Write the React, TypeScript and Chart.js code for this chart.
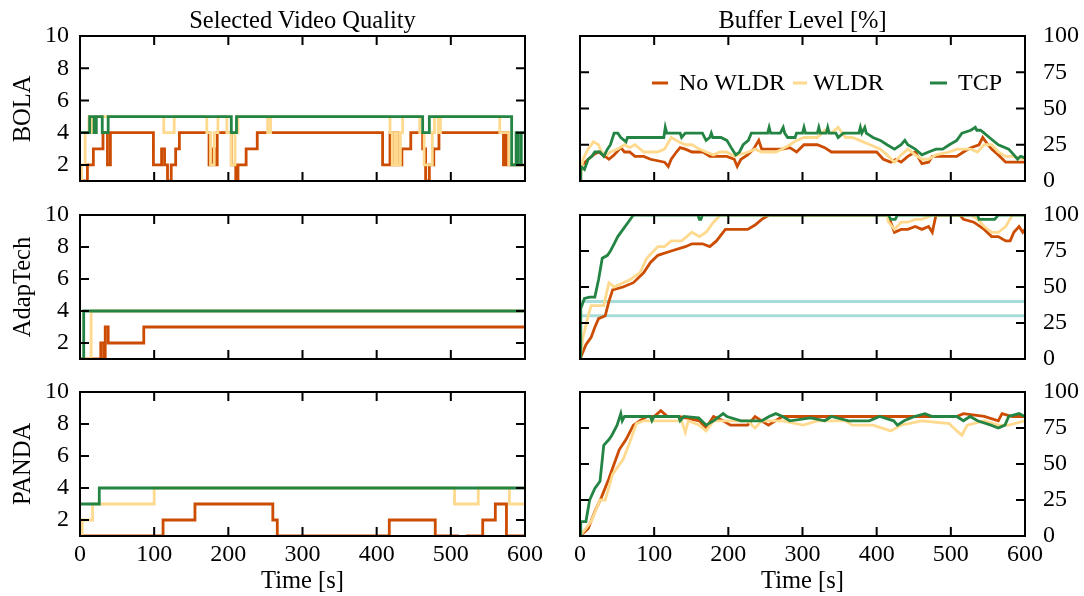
import React, { useEffect, useRef } from "react";
import { Chart, registerables } from "chart.js";

Chart.register(...registerables);

const FONT = "'Liberation Serif', 'Times New Roman', serif";
const COLOR_NO_WLDR = "#cc4c02";
const COLOR_WLDR = "#fed98e";
const COLOR_TCP = "#238443";
const COLOR_THRESHOLD = "#a8dcd8";

const seriesNames = ["No WLDR", "WLDR", "TCP"];
const rowNames = ["BOLA", "AdapTech", "PANDA"];
const columnTitles = ["Selected Video Quality", "Buffer Level [%]"];
const xTitle = "Time [s]";

const timeTicks = [0, 100, 200, 300, 400, 500, 600];
const qualityTicks = [2, 4, 6, 8, 10];
const bufferTicks = [0, 25, 50, 75, 100];

type Pt = [number, number | null];

// ---- BOLA: selected quality level (step changes: [time s, level]) ----
const bolaQualityNoWldr: Pt[] = [
  [0, 1], [10, 2], [18, 3], [31, 4], [37, 2], [41, 4], [99, 2], [110, 3], [114, 2], [118, 1],
  [123, 2], [129, 3], [134, 4], [174, 2], [178, 3], [182, 2], [185, 4], [204, 2], [210, 1],
  [213, 2], [224, 3], [239, 4], [408, 2], [418, 4], [421, 2], [425, 4], [428, 2], [434, 3],
  [446, 4], [462, 3], [466, 1], [471, 2], [477, 3], [484, 4], [571, 2], [574, 4], [577, 2], [600, 2],
];
const bolaQualityWldr: Pt[] = [
  [0, 1], [2, 2], [7, 4], [12, 5], [14, 4], [17, 5], [113, 4], [127, 5], [171, 4], [176, 2],
  [181, 4], [186, 5], [198, 4], [204, 2], [209, 4], [213, 5], [253, 4], [257, 5], [418, 4],
  [421, 2], [425, 4], [428, 2], [432, 4], [435, 5], [458, 4], [464, 2], [475, 4], [478, 5],
  [483, 4], [486, 5], [566, 4], [578, 2], [600, 2],
];
const bolaQualityTcp: Pt[] = [
  [0, 4], [13, 5], [19, 4], [22, 5], [30, 4], [38, 5], [204, 4], [211, 5], [462, 4], [471, 5],
  [582, 2], [588, 4], [591, 2], [595, 4], [600, 4],
];

// ---- BOLA: buffer level [%] ----
const bolaBufferNoWldr: Pt[] = [
  [0, 0], [1, 10], [11, 15], [18, 18], [25, 20], [34, 17], [39, 15], [46, 18], [55, 23], [60, 20],
  [67, 20], [74, 17], [86, 17], [95, 15], [114, 13], [119, 10], [123, 15], [130, 20], [135, 23],
  [142, 22], [151, 20], [166, 20], [175, 17], [198, 17], [208, 15], [212, 10], [217, 15],
  [226, 18], [234, 22], [241, 28], [245, 22], [273, 22], [283, 23], [292, 20], [302, 25],
  [320, 25], [330, 23], [339, 20], [400, 20], [409, 15], [419, 13], [426, 15], [433, 13],
  [442, 17], [452, 20], [461, 12], [470, 13], [475, 17], [508, 17], [517, 20], [527, 23],
  [538, 25], [543, 30], [550, 25], [555, 22], [564, 18], [574, 13], [600, 13],
];
const bolaBufferWldr: Pt[] = [
  [0, 0], [4, 15], [11, 22], [18, 27], [25, 25], [29, 20], [37, 18], [41, 20], [51, 22], [60, 25],
  [67, 23], [74, 25], [86, 20], [104, 20], [114, 22], [123, 30], [133, 27], [142, 25], [151, 25],
  [161, 22], [170, 20], [180, 18], [189, 20], [198, 20], [208, 17], [227, 20], [236, 22],
  [245, 20], [264, 20], [273, 22], [283, 25], [292, 28], [302, 30], [320, 30], [330, 35],
  [339, 33], [348, 37], [358, 30], [367, 30], [377, 28], [391, 25], [405, 22], [414, 18],
  [424, 13], [433, 18], [442, 22], [452, 18], [461, 15], [470, 15], [480, 18], [498, 20],
  [508, 22], [527, 22], [536, 20], [545, 25], [555, 25], [564, 20], [574, 17], [583, 17], [600, 15],
];
const bolaBufferTcp: Pt[] = [
  [0, 0], [1, 10], [6, 8], [11, 15], [16, 17], [20, 20], [27, 20], [32, 17], [37, 22], [41, 25],
  [46, 33], [51, 33], [55, 30], [62, 27], [64, 30], [113, 30], [115, 37], [117, 33], [135, 33],
  [137, 30], [142, 33], [165, 33], [170, 28], [175, 30], [177, 33], [179, 30], [190, 30],
  [198, 28], [205, 22], [210, 18], [215, 20], [220, 25], [227, 28], [231, 33], [253, 33],
  [255, 37], [257, 33], [270, 33], [274, 37], [276, 33], [280, 30], [290, 30], [292, 33],
  [300, 33], [302, 37], [304, 33], [320, 33], [322, 37], [324, 33], [332, 33], [334, 37],
  [336, 33], [345, 33], [348, 30], [355, 33], [376, 33], [378, 37], [380, 33], [384, 37],
  [386, 33], [395, 30], [405, 28], [414, 25], [424, 22], [433, 25], [438, 28], [442, 25],
  [452, 22], [461, 18], [470, 20], [480, 22], [489, 22], [498, 25], [508, 28], [515, 33],
  [527, 35], [533, 37], [535, 35], [540, 35], [545, 33], [552, 30], [564, 25], [578, 22],
  [585, 18], [590, 15], [594, 17], [600, 16],
];

// ---- AdapTech: selected quality level ----
const adapQualityNoWldr: Pt[] = [[0, 1], [28, 2], [32, 1], [34, 3], [38, 2], [86, 3], [600, 3]];
const adapQualityWldr: Pt[] = [[0, 1], [15, 4], [600, 4]];
const adapQualityTcp: Pt[] = [[0, 1], [5, 4], [600, 4]];

// ---- AdapTech: buffer level [%] and its two buffer thresholds ----
const adapBufferNoWldr: Pt[] = [
  [0, 0], [8, 10], [15, 15], [20, 22], [25, 28], [34, 30], [39, 40], [44, 48], [58, 50], [72, 53],
  [86, 60], [95, 67], [105, 72], [123, 75], [142, 78], [151, 80], [165, 80], [175, 78], [184, 82],
  [196, 90], [226, 90], [236, 93], [245, 97], [255, 100], [414, 100], [419, 95], [424, 88],
  [433, 90], [442, 90], [452, 92], [461, 90], [470, 92], [475, 88], [480, 100], [512, 100],
  [517, 97], [531, 95], [545, 90], [555, 85], [564, 85], [574, 82], [580, 82], [585, 88],
  [592, 92], [597, 88], [600, 90],
];
const adapBufferWldr: Pt[] = [
  [0, 0], [4, 15], [11, 30], [15, 37], [32, 37], [39, 53], [46, 50], [67, 55], [81, 60], [90, 70],
  [105, 78], [114, 78], [123, 82], [137, 82], [151, 88], [161, 85], [170, 88], [180, 95],
  [189, 100], [414, 100], [416, 95], [424, 90], [433, 95], [442, 95], [452, 97], [461, 97],
  [475, 100], [527, 100], [536, 97], [545, 92], [555, 88], [564, 88], [574, 92], [583, 100], [600, 100],
];
const adapBufferTcp: Pt[] = [
  [0, 0], [1, 35], [6, 42], [13, 43], [20, 43], [25, 55], [30, 70], [37, 72], [41, 75], [46, 80],
  [51, 85], [58, 90], [65, 95], [72, 100], [159, 100], [161, 97], [163, 97], [165, 100],
  [416, 100], [419, 97], [425, 97], [428, 100], [536, 100], [538, 97], [559, 97], [564, 100], [600, 100],
];
const adapBufferThresholds = [40, 30];

// ---- PANDA: selected quality level ----
const pandaQualityNoWldr: Pt[] = [
  [0, 1], [112, 2], [155, 3], [260, 2], [266, 1], [417, 2], [479, 1], [511, 1], [512, null],
  [520, 1], [543, 2], [560, 3], [575, 1], [600, 1],
];
const pandaQualityWldr: Pt[] = [[0, 1], [3, 2], [17, 3], [100, 4], [505, 3], [537, 4], [579, 3], [600, 3]];
const pandaQualityTcp: Pt[] = [[0, 3], [26, 4], [600, 4]];

// ---- PANDA: buffer level [%] ----
const pandaBufferNoWldr: Pt[] = [
  [0, 0], [11, 5], [20, 17], [29, 27], [39, 40], [46, 50], [53, 60], [62, 67], [72, 77], [81, 80],
  [90, 83], [100, 83], [109, 87], [118, 83], [133, 83], [161, 80], [170, 75], [180, 83],
  [193, 80], [203, 77], [226, 77], [236, 83], [254, 77], [273, 83], [498, 83], [508, 83],
  [517, 85], [545, 83], [564, 80], [569, 85], [583, 83], [600, 83],
];
const pandaBufferWldr: Pt[] = [
  [0, 0], [15, 10], [27, 25], [34, 25], [44, 43], [58, 53], [67, 65], [76, 78], [86, 80],
  [137, 80], [142, 72], [146, 80], [161, 77], [170, 73], [180, 80], [198, 80], [226, 80],
  [236, 75], [245, 80], [273, 80], [301, 77], [320, 80], [358, 80], [367, 77], [395, 77],
  [419, 73], [433, 77], [461, 80], [498, 78], [508, 73], [515, 70], [522, 77], [545, 80],
  [564, 77], [578, 77], [600, 80],
];
const pandaBufferTcp: Pt[] = [
  [0, 0], [1, 10], [8, 10], [13, 25], [20, 33], [27, 38], [32, 63], [39, 67], [43, 70], [50, 77],
  [55, 85], [57, 80], [60, 83], [95, 83], [97, 80], [100, 83], [133, 83], [135, 80], [140, 83],
  [160, 82], [170, 77], [180, 80], [193, 85], [198, 83], [217, 80], [245, 80], [255, 83],
  [264, 85], [273, 83], [283, 80], [311, 82], [330, 80], [339, 83], [362, 80], [390, 80],
  [404, 83], [423, 80], [428, 77], [437, 80], [451, 83], [465, 85], [475, 83], [508, 83],
  [517, 80], [526, 83], [536, 80], [554, 77], [564, 75], [573, 77], [578, 83], [592, 85], [600, 83],
];

// ---- page layout (pixels) ----
const PAGE_W = 1084;
const PAGE_H = 596;
const rowBounds: [number, number][] = [[36, 181], [215, 359], [392, 536]];
const colBounds: [number, number][] = [[80, 525], [580, 1025]];
const TICK_LEN = 9;

type PanelSpec = {
  row: number;
  col: number;
  yMin: number;
  yMax: number;
  yTicks: number[];
  stepped: boolean;
  series: [Pt[], Pt[], Pt[]];
  thresholds?: number[];
  legend?: boolean;
};

const panels: PanelSpec[] = [
  { row: 0, col: 0, yMin: 1, yMax: 10, yTicks: qualityTicks, stepped: true, series: [bolaQualityNoWldr, bolaQualityWldr, bolaQualityTcp] },
  { row: 0, col: 1, yMin: 0, yMax: 100, yTicks: bufferTicks, stepped: false, series: [bolaBufferNoWldr, bolaBufferWldr, bolaBufferTcp], legend: true },
  { row: 1, col: 0, yMin: 1, yMax: 10, yTicks: qualityTicks, stepped: true, series: [adapQualityNoWldr, adapQualityWldr, adapQualityTcp] },
  { row: 1, col: 1, yMin: 0, yMax: 100, yTicks: bufferTicks, stepped: false, series: [adapBufferNoWldr, adapBufferWldr, adapBufferTcp], thresholds: adapBufferThresholds },
  { row: 2, col: 0, yMin: 1, yMax: 10, yTicks: qualityTicks, stepped: true, series: [pandaQualityNoWldr, pandaQualityWldr, pandaQualityTcp] },
  { row: 2, col: 1, yMin: 0, yMax: 100, yTicks: bufferTicks, stepped: false, series: [pandaBufferNoWldr, pandaBufferWldr, pandaBufferTcp] },
];

const seriesColors = [COLOR_NO_WLDR, COLOR_WLDR, COLOR_TCP];

// Frame with inward tick marks on all four sides
const framePlugin = {
  id: "frame",
  afterDraw(chart: any) {
    const { ctx, chartArea } = chart;
    const { left, right, top, bottom } = chartArea;
    const xs = chart.scales.x;
    const ys = chart.scales.y;
    ctx.save();
    ctx.strokeStyle = "#000";
    ctx.lineWidth = 2;
    ctx.beginPath();
    for (const v of timeTicks) {
      const px = xs.getPixelForValue(v);
      ctx.moveTo(px, bottom);
      ctx.lineTo(px, bottom - TICK_LEN);
      ctx.moveTo(px, top);
      ctx.lineTo(px, top + TICK_LEN);
    }
    for (const v of (chart.options.plugins.frame.yTicks as number[])) {
      const py = ys.getPixelForValue(v);
      ctx.moveTo(left, py);
      ctx.lineTo(left + TICK_LEN, py);
      ctx.moveTo(right, py);
      ctx.lineTo(right - TICK_LEN, py);
    }
    ctx.stroke();
    ctx.strokeRect(left, top, right - left, bottom - top);
    ctx.restore();
  },
};

// Legend row drawn inside the BOLA buffer panel
const legendPlugin = {
  id: "inlineLegend",
  afterDraw(chart: any) {
    if (!chart.options.plugins.inlineLegend.show) return;
    const { ctx } = chart;
    const y = 83;
    const entries = [
      { sample: [652, 668], textX: 679 },
      { sample: [793, 807], textX: 813 },
      { sample: [930, 947], textX: 958 },
    ];
    ctx.save();
    ctx.font = `24px ${FONT}`;
    ctx.textBaseline = "middle";
    ctx.fillStyle = "#000";
    entries.forEach((e, i) => {
      ctx.strokeStyle = seriesColors[i];
      ctx.lineWidth = 3;
      ctx.beginPath();
      ctx.moveTo(e.sample[0], y);
      ctx.lineTo(e.sample[1], y);
      ctx.stroke();
      ctx.fillText(seriesNames[i], e.textX, y + 1);
    });
    ctx.restore();
  },
};

function Panel({ spec }: { spec: PanelSpec }) {
  const ref = useRef<HTMLCanvasElement | null>(null);

  useEffect(() => {
    if (!ref.current) return;
    const [top, bottom] = rowBounds[spec.row];
    const [left, right] = colBounds[spec.col];
    const showX = spec.row === 2;
    const side = spec.col === 0 ? "left" : "right";
    const yAxisWidth = side === "left" ? left : PAGE_W - right;
    const xAxisHeight = PAGE_H - bottom;

    const datasets: any[] = spec.series.map((pts, i) => ({
      label: seriesNames[i],
      data: pts.map(([x, y]) => ({ x, y })),
      borderColor: seriesColors[i],
      backgroundColor: seriesColors[i],
      borderWidth: 2.8,
      pointRadius: 0,
      stepped: spec.stepped,
      spanGaps: false,
      order: 2 - i,
    }));
    (spec.thresholds || []).forEach((v) => {
      datasets.push({
        label: "threshold",
        data: [{ x: 0, y: v }, { x: 600, y: v }],
        borderColor: COLOR_THRESHOLD,
        borderWidth: 3,
        pointRadius: 0,
        order: 5,
      });
    });

    const tickFont = { family: FONT, size: 24 };
    const chart = new Chart(ref.current, {
      type: "line",
      data: { datasets },
      plugins: [framePlugin, legendPlugin],
      options: {
        responsive: false,
        animation: false,
        events: [],
        layout: {
          padding: {
            left: side === "left" ? 0 : left,
            right: side === "right" ? 0 : PAGE_W - right,
            top,
            bottom: 0,
          },
        },
        plugins: {
          legend: { display: false },
          tooltip: { enabled: false },
          frame: { yTicks: spec.yTicks },
          inlineLegend: { show: !!spec.legend },
        } as any,
        scales: {
          x: {
            type: "linear",
            position: "bottom",
            min: 0,
            max: 600,
            grid: { display: false, drawTicks: false },
            border: { display: false },
            ticks: { display: showX, padding: 4, color: "#000", font: tickFont, maxRotation: 0, autoSkip: false },
            afterBuildTicks: (s: any) => { s.ticks = timeTicks.map((value) => ({ value })); },
            afterFit: (s: any) => { s.height = xAxisHeight; s.paddingLeft = 0; s.paddingRight = 0; s.paddingTop = 0; s.paddingBottom = 0; },
          },
          y: {
            type: "linear",
            position: side,
            min: spec.yMin,
            max: spec.yMax,
            grid: { display: false, drawTicks: false },
            border: { display: false },
            ticks: { padding: side === "left" ? 11 : 18, color: "#000", font: tickFont, autoSkip: false },
            afterBuildTicks: (s: any) => { s.ticks = spec.yTicks.map((value) => ({ value })); },
            afterFit: (s: any) => { s.width = yAxisWidth; s.paddingLeft = 0; s.paddingRight = 0; s.paddingTop = 0; s.paddingBottom = 0; },
          },
        },
      } as any,
    });
    return () => chart.destroy();
  }, [spec]);

  return (
    <canvas
      ref={ref}
      width={PAGE_W}
      height={PAGE_H}
      style={{ position: "absolute", left: 0, top: 0, width: PAGE_W, height: PAGE_H }}
    />
  );
}

const textStyle: React.CSSProperties = {
  position: "absolute",
  fontFamily: FONT,
  fontSize: 24.5,
  color: "#000",
  whiteSpace: "nowrap",
  lineHeight: 1,
};

export default function App() {
  return (
    <div style={{ position: "absolute", left: 0, top: 0, width: PAGE_W, height: PAGE_H, background: "#fff", overflow: "hidden" }}>
      {panels.map((p, i) => (
        <Panel key={i} spec={p} />
      ))}
      {columnTitles.map((t, i) => (
        <div key={t} style={{ ...textStyle, left: (colBounds[i][0] + colBounds[i][1]) / 2, top: 20, transform: "translate(-50%, -50%)" }}>
          {t}
        </div>
      ))}
      {colBounds.map((c, i) => (
        <div key={i} style={{ ...textStyle, left: (c[0] + c[1]) / 2, top: 580, transform: "translate(-50%, -50%)" }}>
          {xTitle}
        </div>
      ))}
      {rowNames.map((n, i) => (
        <div
          key={n}
          style={{ ...textStyle, left: 22, top: (rowBounds[i][0] + rowBounds[i][1]) / 2, transform: "translate(-50%, -50%) rotate(-90deg)" }}
        >
          {n}
        </div>
      ))}
    </div>
  );
}
